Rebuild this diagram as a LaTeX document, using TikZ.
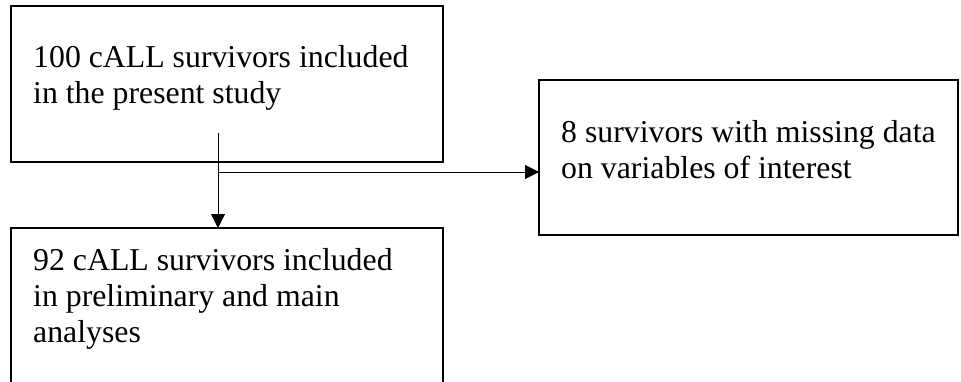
\documentclass[tikz,border=0pt]{standalone}
\usepackage{fontspec}
\setmainfont{Liberation Serif}
\usetikzlibrary{arrows.meta}
\begin{document}
\begin{tikzpicture}[x=1pt,y=-1pt,
  box/.style={draw=black, line width=2pt, anchor=north west, inner sep=0pt, outer sep=0pt},
  txt/.style={anchor=base west, inner sep=0pt, font=\fontsize{31.8}{36}\selectfont},
  conn/.style={line width=1pt, -{Triangle[length=14pt,width=14pt]}}]
\useasboundingbox (0,0) rectangle (961,381);
\clip (0,0) rectangle (961,381);
\node[box, minimum width=432pt, minimum height=156pt] (b1) at (11,6) {};
\node[box, minimum width=419pt, minimum height=155pt] (b2) at (539,80) {};
\node[box, minimum width=432pt, minimum height=200pt] (b3) at (11,228) {};
\node[txt] (t1) at (33,67) {\begin{tabular}[t]{@{}l@{}}100 cALL survivors included\\ in the present study\end{tabular}};
\node[txt] (t2) at (561,142) {\begin{tabular}[t]{@{}l@{}}8 survivors with missing data\\ on variables of interest\end{tabular}};
\node[txt] (t3) at (33,270) {\begin{tabular}[t]{@{}l@{}}92 cALL survivors included\\ in preliminary and main\\ analyses\end{tabular}};
\coordinate (s) at (218,133);
\coordinate (j) at (218,172);
\draw[conn] (s) -- (s |- b3.north);
\draw[conn] (j) -- (j -| b2.west);
\end{tikzpicture}
\end{document}
